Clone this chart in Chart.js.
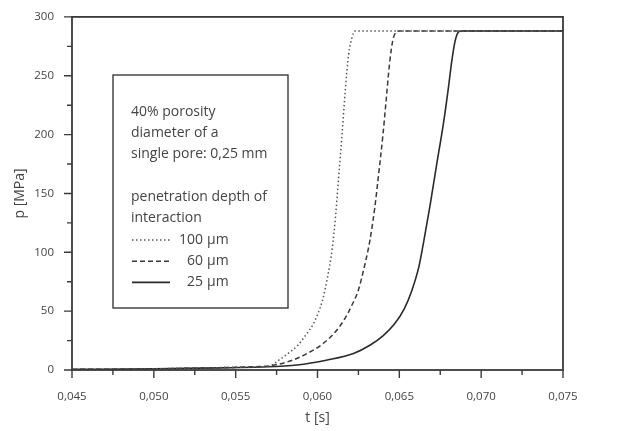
<!DOCTYPE html>
<html lang="en">
<head>
  <meta charset="UTF-8">
  <title>p(t) curves</title>
  <script src="https://cdn.jsdelivr.net/npm/chart.js"></script>
  <style>
    body { margin: 0; background: #fff; }
  </style>
</head>
<body>
  <canvas id="pChart" width="626" height="431"></canvas>

  <script>
    // t in s, p in MPa
    const tDotted = [0.045, 0.050, 0.054, 0.0565, 0.0570, 0.0576, 0.0582, 0.0588, 0.0593, 0.0597, 0.0600, 0.0603, 0.0606, 0.0609, 0.0611, 0.0613, 0.0615, 0.0617, 0.0619, 0.0621, 0.0623, 0.075];
    const pDotted = [0.5, 1, 2, 2.6, 3, 8, 14, 21, 30, 38, 47, 59, 78, 103, 130, 165, 200, 238, 268, 282, 288, 288];

    const tDashed = [0.045, 0.050, 0.054, 0.0565, 0.0573, 0.0585, 0.0595, 0.0603, 0.0610, 0.0616, 0.0621, 0.0625, 0.0628, 0.0632, 0.0635, 0.0637, 0.0640, 0.0642, 0.0644, 0.0646, 0.0648, 0.0650, 0.075];
    const pDashed = [0.5, 1, 2, 3, 4, 8.5, 15, 22, 31, 42, 55, 68, 84, 110, 138, 162, 200, 230, 260, 280, 287, 288, 288];

    const tSolid = [0.045, 0.050, 0.054, 0.0565, 0.05875, 0.0606, 0.0622, 0.0632, 0.0640, 0.0647, 0.0653, 0.06575, 0.0662, 0.0665, 0.06688, 0.06725, 0.0677, 0.0680, 0.0682, 0.0684, 0.0686, 0.0688, 0.075];
    const pSolid = [0.5, 1, 1.8, 2.5, 4.2, 8.5, 14, 21, 29, 39, 52, 67, 88, 110, 140, 172, 210, 240, 262, 279, 287, 288, 288];

    const xMajor = [0.045, 0.050, 0.055, 0.060, 0.065, 0.070, 0.075];
    const yMajor = [0, 50, 100, 150, 200, 250, 300];

    const infoLines = ['40% porosity', 'diameter of a', 'single pore: 0,25 mm', '', 'penetration depth of', 'interaction'];
    const seriesNames = ['100 \u00b5m', '60 \u00b5m', '25 \u00b5m'];

    const FONT = "'Open Sans', 'DejaVu Sans', sans-serif";
    const INK = '#3a3a3a';

    function pts(ts, ps) {
      return ts.map((t, i) => ({ x: t, y: ps[i] }));
    }

    // frame, minor/major ticks and the text box
    const framePlugin = {
      id: 'frame',
      afterDraw(chart) {
        const { ctx, chartArea: a, scales: { x, y } } = chart;
        ctx.save();
        ctx.strokeStyle = INK;
        ctx.lineWidth = 1.8;
        ctx.strokeRect(a.left, a.top, a.right - a.left, a.bottom - a.top);

        ctx.lineWidth = 1.4;
        ctx.beginPath();
        for (let i = 0; i <= 12; i++) {
          const px = x.getPixelForValue(0.045 + i * 0.0025);
          const len = i % 2 === 0 ? 8 : 5;
          ctx.moveTo(px, a.bottom);
          ctx.lineTo(px, a.bottom + len);
        }
        for (let i = 0; i <= 12; i++) {
          const py = y.getPixelForValue(i * 25);
          const len = i % 2 === 0 ? 8 : 5;
          ctx.moveTo(a.left, py);
          ctx.lineTo(a.left - len, py);
        }
        ctx.stroke();

        // text box
        const bx = 113, by = 75, bw = 175, bh = 233;
        ctx.lineWidth = 1.4;
        ctx.strokeRect(bx, by, bw, bh);
        ctx.fillStyle = '#444';
        ctx.font = '14px ' + FONT;
        ctx.textBaseline = 'middle';
        infoLines.forEach((s, i) => ctx.fillText(s, 131, 112 + i * 21.2));

        const ds = chart.data.datasets;
        seriesNames.forEach((s, i) => {
          const ly = 240 + i * 21.2;
          ctx.strokeStyle = ds[i].borderColor;
          ctx.lineWidth = ds[i].borderWidth;
          ctx.setLineDash(ds[i].borderDash || []);
          ctx.beginPath();
          ctx.moveTo(132, ly);
          ctx.lineTo(170, ly);
          ctx.stroke();
          ctx.setLineDash([]);
          ctx.textAlign = 'right';
          ctx.fillText(s.split(' ')[0], 203, ly);
          ctx.textAlign = 'left';
          ctx.fillText('\u00b5m', 207, ly);
        });
        ctx.restore();
      }
    };

    new Chart(document.getElementById('pChart'), {
      type: 'scatter',
      data: {
        datasets: [
          { label: seriesNames[0], data: pts(tDotted, pDotted), borderColor: '#555', borderWidth: 1.5, borderDash: [1.5, 2.5] },
          { label: seriesNames[1], data: pts(tDashed, pDashed), borderColor: '#3a3a3a', borderWidth: 1.5, borderDash: [5, 3] },
          { label: seriesNames[2], data: pts(tSolid, pSolid), borderColor: '#2a2a2a', borderWidth: 1.6 }
        ].map(d => Object.assign(d, { showLine: true, pointRadius: 0, cubicInterpolationMode: 'monotone' }))
      },
      options: {
        responsive: false,
        animation: false,
        layout: { padding: { top: 15, right: 63, left: 0, bottom: 0 } },
        plugins: { legend: { display: false }, tooltip: { enabled: false } },
        scales: {
          x: {
            type: 'linear',
            min: 0.045,
            max: 0.075,
            afterFit: s => { s.height = 61; },
            afterBuildTicks: s => { s.ticks = xMajor.map(v => ({ value: v })); },
            grid: { display: false },
            border: { display: false },
            ticks: {
              color: '#444',
              font: { family: FONT, size: 11.5 },
              padding: 12,
              maxRotation: 0,
              callback: v => v.toFixed(3).replace('.', ',')
            },
            title: { display: true, text: 't [s]', color: '#444', font: { family: FONT, size: 14 }, padding: { top: 0, bottom: 5 } }
          },
          y: {
            min: 0,
            max: 300,
            afterFit: s => { s.width = 72; },
            afterBuildTicks: s => { s.ticks = yMajor.map(v => ({ value: v })); },
            grid: { display: false },
            border: { display: false },
            ticks: {
              color: '#444',
              font: { family: FONT, size: 11.5 },
              padding: 10
            },
            title: { display: true, text: 'p [MPa]', color: '#444', font: { family: FONT, size: 14 }, padding: { top: 12, bottom: 0 } }
          }
        }
      },
      plugins: [framePlugin]
    });
  </script>
</body>
</html>
